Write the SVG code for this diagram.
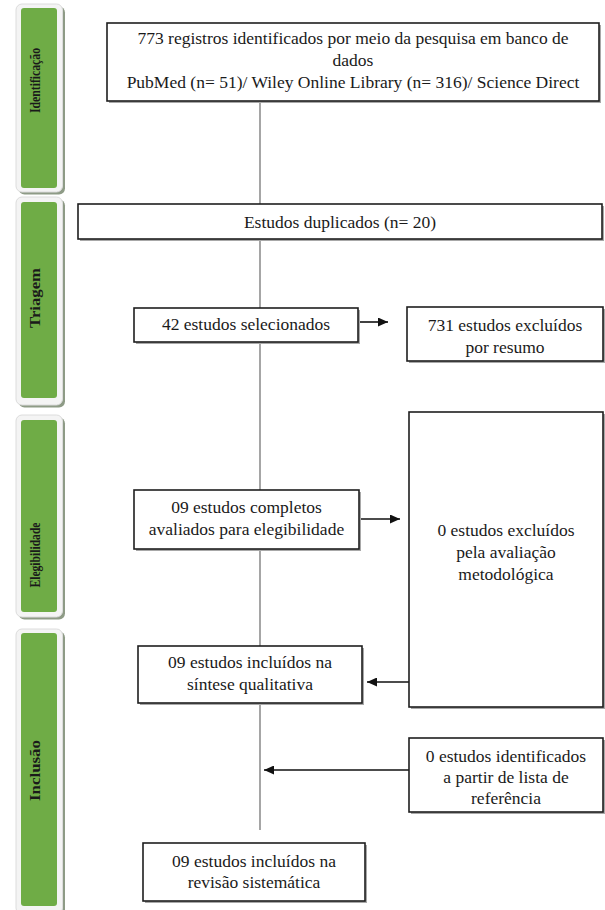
<svg xmlns="http://www.w3.org/2000/svg" width="605" height="910" viewBox="0 0 605 910">
<style>
.box{fill:#fff;stroke:#1e1e1e;stroke-width:1.6}
.bs{fill:#a8a8a8}
.t{font-family:'Liberation Serif','Times New Roman',Tinos,'DejaVu Serif',serif;font-size:17.5px;fill:#1a1a1a;text-anchor:middle}
.lbl{font-family:'Liberation Serif','Times New Roman',Tinos,'DejaVu Serif',serif;font-size:15.5px;font-weight:bold;fill:#1a1a1a;text-anchor:middle}
.shadow{fill:#8e9b86}
.frame{fill:#f4f4f4;stroke:#dcdcdc;stroke-width:1}
.green{fill:#6fac46}
.vline{stroke:#6a6a6a;stroke-width:1.2;fill:none}
.arrow{stroke:#111;stroke-width:1.6;fill:none;marker-end:url(#ah)}
</style>
<defs>
<marker id="ah" markerUnits="userSpaceOnUse" markerWidth="11" markerHeight="9" refX="10" refY="4.5" orient="auto">
<path d="M0,0 L10,4.5 L0,9 z" fill="#111"/>
</marker>
<clipPath id="lc"><rect x="29" y="0" width="40" height="910"/></clipPath>
</defs>

<g id="phase-identificacao">
<rect class="shadow" x="18.5" y="6.5" width="46.5" height="188" rx="6"/>
<rect class="frame" x="16" y="4" width="46.5" height="188" rx="6"/>
<rect class="green" x="21" y="8" width="36" height="180" rx="3"/>
<g clip-path="url(#lc)"><text class="lbl" transform="translate(39.5,80.5) rotate(-90)" textLength="65" lengthAdjust="spacingAndGlyphs">Identificação</text></g>
</g>
<g id="phase-triagem">
<rect class="shadow" x="18.5" y="199.5" width="46.5" height="208" rx="6"/>
<rect class="frame" x="16" y="197" width="46.5" height="208" rx="6"/>
<rect class="green" x="21" y="202" width="36" height="196" rx="3"/>
<g clip-path="url(#lc)"><text class="lbl" transform="translate(39.5,298) rotate(-90)" textLength="60" lengthAdjust="spacingAndGlyphs">Triagem</text></g>
</g>
<g id="phase-elegibilidade">
<rect class="shadow" x="18.5" y="417.5" width="46.5" height="202" rx="6"/>
<rect class="frame" x="16" y="415" width="46.5" height="202" rx="6"/>
<rect class="green" x="21" y="420" width="36" height="192" rx="3"/>
<g clip-path="url(#lc)"><text class="lbl" transform="translate(39.5,555) rotate(-90)" textLength="65" lengthAdjust="spacingAndGlyphs">Elegibilidade</text></g>
</g>
<g id="phase-inclusao">
<rect class="shadow" x="18.5" y="631.5" width="46.5" height="285" rx="6"/>
<rect class="frame" x="16" y="629" width="46.5" height="285" rx="6"/>
<rect class="green" x="21" y="633" width="36" height="273" rx="3"/>
<g clip-path="url(#lc)"><text class="lbl" transform="translate(39.5,770.5) rotate(-90)" textLength="61" lengthAdjust="spacingAndGlyphs">Inclusão</text></g>
</g>

<g id="connectors">
<line class="vline" x1="260" y1="101" x2="260" y2="204"/>
<line class="vline" x1="260" y1="239" x2="260" y2="308"/>
<line class="vline" x1="260" y1="342" x2="260" y2="490"/>
<line class="vline" x1="260" y1="549" x2="260" y2="646"/>
<line class="vline" x1="260" y1="703" x2="260" y2="830"/>
<line class="arrow" x1="358" y1="322" x2="388" y2="322"/>
<line class="arrow" x1="359" y1="519" x2="400" y2="519"/>
<line class="arrow" x1="409" y1="682" x2="367" y2="682"/>
<line class="arrow" x1="409" y1="770" x2="264" y2="770"/>
</g>

<g id="n-registros">
<rect class="bs" x="109" y="25" width="492" height="78"/>
<rect class="box" x="107" y="23" width="492" height="78"/>
<text class="t" x="353" y="44">773 registros identificados por meio da pesquisa em banco de</text>
<text class="t" x="353" y="66">dados</text>
<text class="t" x="353" y="88">PubMed (n= 51)/ Wiley Online Library (n= 316)/ Science Direct</text>
</g>
<g id="n-duplicados">
<rect class="bs" x="80" y="206" width="524" height="35"/>
<rect class="box" x="78" y="204" width="524" height="35"/>
<text class="t" x="340" y="227.5">Estudos duplicados (n= 20)</text>
</g>
<g id="n-selecionados">
<rect class="bs" x="136" y="310" width="224" height="34"/>
<rect class="box" x="134" y="308" width="224" height="34"/>
<text class="t" x="246" y="329.5">42 estudos selecionados</text>
</g>
<g id="n-excluidos-resumo">
<rect class="bs" x="409" y="309" width="196" height="54"/>
<rect class="box" x="407" y="307" width="196" height="54"/>
<text class="t" x="505" y="330.5">731 estudos excluídos</text>
<text class="t" x="505" y="352.5">por resumo</text>
</g>
<g id="n-completos">
<rect class="bs" x="136" y="492" width="225" height="59"/>
<rect class="box" x="134" y="490" width="225" height="59"/>
<text class="t" x="246.5" y="513">09 estudos completos</text>
<text class="t" x="246.5" y="535">avaliados para elegibilidade</text>
</g>
<g id="n-excluidos-metodologica">
<rect class="bs" x="411" y="414" width="194" height="295"/>
<rect class="box" x="409" y="412" width="194" height="295"/>
<text class="t" x="506" y="536">0 estudos excluídos</text>
<text class="t" x="506" y="558">pela avaliação</text>
<text class="t" x="506" y="580">metodológica</text>
</g>
<g id="n-sintese">
<rect class="bs" x="140" y="648" width="224" height="57"/>
<rect class="box" x="138" y="646" width="224" height="57"/>
<text class="t" x="250" y="668">09 estudos incluídos na</text>
<text class="t" x="250" y="689.5">síntese qualitativa</text>
</g>
<g id="n-referencia">
<rect class="bs" x="411" y="740" width="194" height="74"/>
<rect class="box" x="409" y="738" width="194" height="74"/>
<text class="t" x="506" y="762">0 estudos identificados</text>
<text class="t" x="506" y="783">a partir de lista de</text>
<text class="t" x="506" y="804">referência</text>
</g>
<g id="n-revisao">
<rect class="bs" x="145" y="845" width="222" height="58"/>
<rect class="box" x="143" y="843" width="222" height="58"/>
<text class="t" x="254" y="866.5">09 estudos incluídos na</text>
<text class="t" x="254" y="887.5">revisão sistemática</text>
</g>
</svg>
